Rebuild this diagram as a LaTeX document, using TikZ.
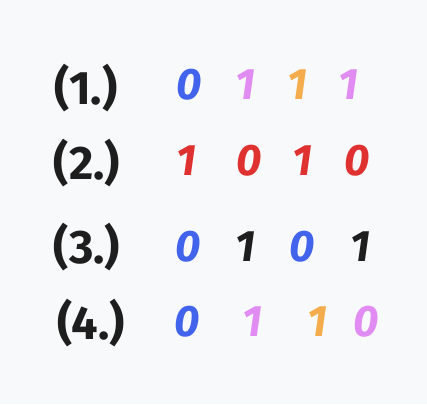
\documentclass[tikz,border=0pt]{standalone}
\usepackage{fontspec}
\setmainfont{Fira Sans}
\usepackage{xcolor}
\usepackage{tikz}
\usetikzlibrary{positioning}
\definecolor{bgGrey}{HTML}{F8F9FA}
\definecolor{bitBlue}{HTML}{4263EB}
\definecolor{bitPink}{HTML}{E08CF2}
\definecolor{bitOrange}{HTML}{F4AC4C}
\definecolor{bitRed}{HTML}{E03131}
\definecolor{bitBlack}{HTML}{1E1E1E}
\tikzstyle{rowLabel} = [inner sep=0pt, text=bitBlack, font=\fontsize{47}{47}\selectfont\bfseries]
\tikzstyle{bit} = [inner sep=0pt, font=\fontsize{44}{44}\selectfont\bfseries\itshape]

\begin{document}
\begin{tikzpicture}[x=1pt, y=-1pt]
		\fill[bgGrey] (0,0) rectangle (427,404);	% Hintergrund
		\useasboundingbox (0,0) rectangle (427,404);
		
		% Zeile 1
		\node[rowLabel] (lbl1) at (86,88) {(1.)};
		\node[bit, text=bitBlue] (b11) at (189,85) {0};
		\node[bit, text=bitPink] (b12) at (245,85) {1};
		\node[bit, text=bitOrange] (b13) at (297,85) {1};
		\node[bit, text=bitPink] (b14) at (348,85) {1};
		
		% Zeile 2
		\node[rowLabel] (lbl2) at (87,163) {(2.)};
		\node[bit, text=bitRed] (b21) at (186,161) {1};
		\node[bit, text=bitRed] (b22) at (249,161) {0};
		\node[bit, text=bitRed] (b23) at (302,161) {1};
		\node[bit, text=bitRed] (b24) at (357,161) {0};
		
		% Zeile 3
		\node[rowLabel] (lbl3) at (87,247) {(3.)};
		\node[bit, text=bitBlue] (b31) at (188,247) {0};
		\node[bit, text=bitBlack] (b32) at (245,247) {1};
		\node[bit, text=bitBlue] (b33) at (302,247) {0};
		\node[bit, text=bitBlack] (b34) at (360,247) {1};
		
		% Zeile 4
		\node[rowLabel] (lbl4) at (91,323) {(4.)};
		\node[bit, text=bitBlue] (b41) at (187,322) {0};
		\node[bit, text=bitPink] (b42) at (252,322) {1};
		\node[bit, text=bitOrange] (b43) at (317,322) {1};
		\node[bit, text=bitPink] (b44) at (366,322) {0};
		
\end{tikzpicture}
\end{document}
